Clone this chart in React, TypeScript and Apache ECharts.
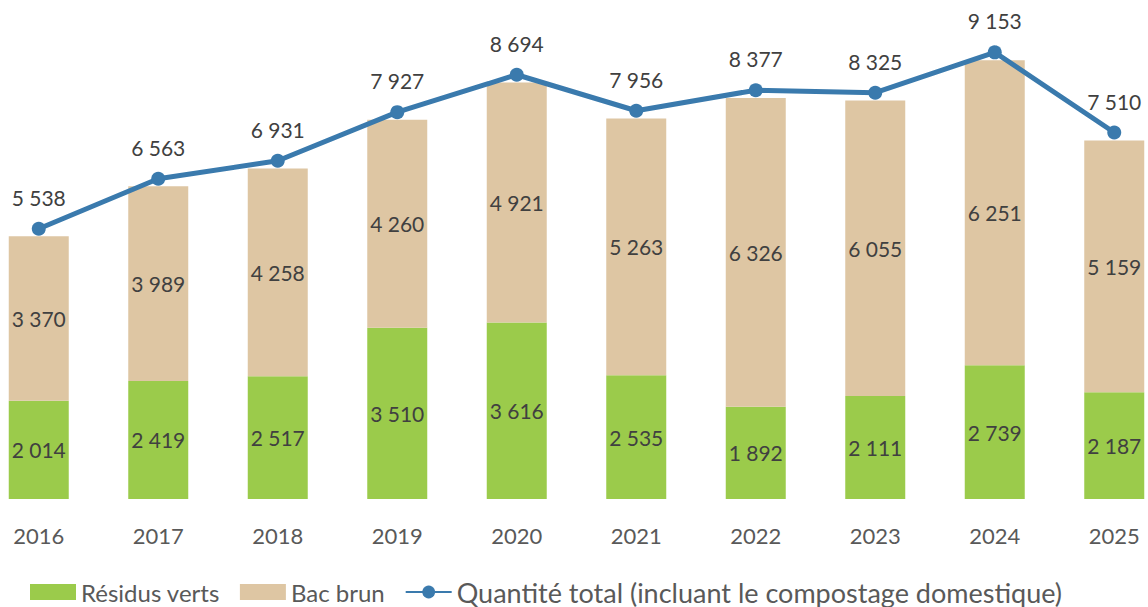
import React, { useEffect, useRef } from "react";
import * as echarts from "echarts";

const years = ["2016", "2017", "2018", "2019", "2020", "2021", "2022", "2023", "2024", "2025"];
const residusVerts = [2014, 2419, 2517, 3510, 3616, 2535, 1892, 2111, 2739, 2187];
const bacBrun = [3370, 3989, 4258, 4260, 4921, 5263, 6326, 6055, 6251, 5159];
const total = [5538, 6563, 6931, 7927, 8694, 7956, 8377, 8325, 9153, 7510];

const FONT = "Lato, 'Open Sans', sans-serif";
const fmt = (v: number) => {
  const s = String(Math.round(v));
  return s.replace(/\B(?=(\d{3})+(?!\d))/g, " ");
};

export default function App() {
  const ref = useRef<HTMLDivElement>(null);
  useEffect(() => {
    if (!ref.current) return;
    const chart = echarts.init(ref.current, undefined, { renderer: "svg" });
    const barLabel = {
      show: true,
      position: "inside",
      fontFamily: FONT,
      fontSize: 21,
      color: "#404040",
      formatter: (p: any) => fmt(p.value),
    };
    chart.setOption({
      animation: false,
      backgroundColor: "#ffffff",
      grid: { left: 0, right: 0, top: 11, bottom: 108, containLabel: false },
      legend: {
        top: 577,
        left: 51,
        padding: 0,
        itemWidth: 46,
        itemHeight: 16,
        itemGap: 20,
        textStyle: { fontFamily: FONT, fontSize: 24, color: "#595959", lineHeight: 30 },
        data: [
          { name: "Résidus verts", icon: "rect" },
          { name: "Bac brun", icon: "rect" },
          {
            name: "Quantité total (incluant le compostage domestique)",
            textStyle: { fontSize: 27, lineHeight: 30 },
          },
        ],
      },
      xAxis: {
        type: "category",
        data: years,
        axisLine: { show: false },
        axisTick: { show: false },
        axisLabel: { fontFamily: FONT, fontSize: 22, color: "#595959", margin: 25 },
      },
      yAxis: {
        type: "value",
        min: 0,
        max: 10000,
        show: false,
        splitLine: { show: false },
      },
      series: [
        {
          name: "Résidus verts",
          type: "bar",
          stack: "s",
          data: residusVerts,
          barWidth: 60,
          itemStyle: { color: "#9BCB4B" },
          label: barLabel,
        },
        {
          name: "Bac brun",
          type: "bar",
          stack: "s",
          data: bacBrun,
          barWidth: 60,
          itemStyle: { color: "#DEC6A3" },
          label: barLabel,
        },
        {
          name: "Quantité total (incluant le compostage domestique)",
          type: "line",
          data: total,
          symbol: "circle",
          symbolSize: 14,
          lineStyle: { color: "#3A7AAD", width: 5 },
          itemStyle: { color: "#3A7AAD" },
          label: {
            show: true,
            position: "top",
            distance: 14,
            fontFamily: FONT,
            fontSize: 21,
            color: "#404040",
            formatter: (p: any) => fmt(p.value),
          },
          z: 5,
        },
      ],
    });
    return () => chart.dispose();
  }, []);
  return (
    <div
      ref={ref}
      style={{ position: "fixed", left: -21, top: 0, width: 1195, height: 607 }}
    />
  );
}
